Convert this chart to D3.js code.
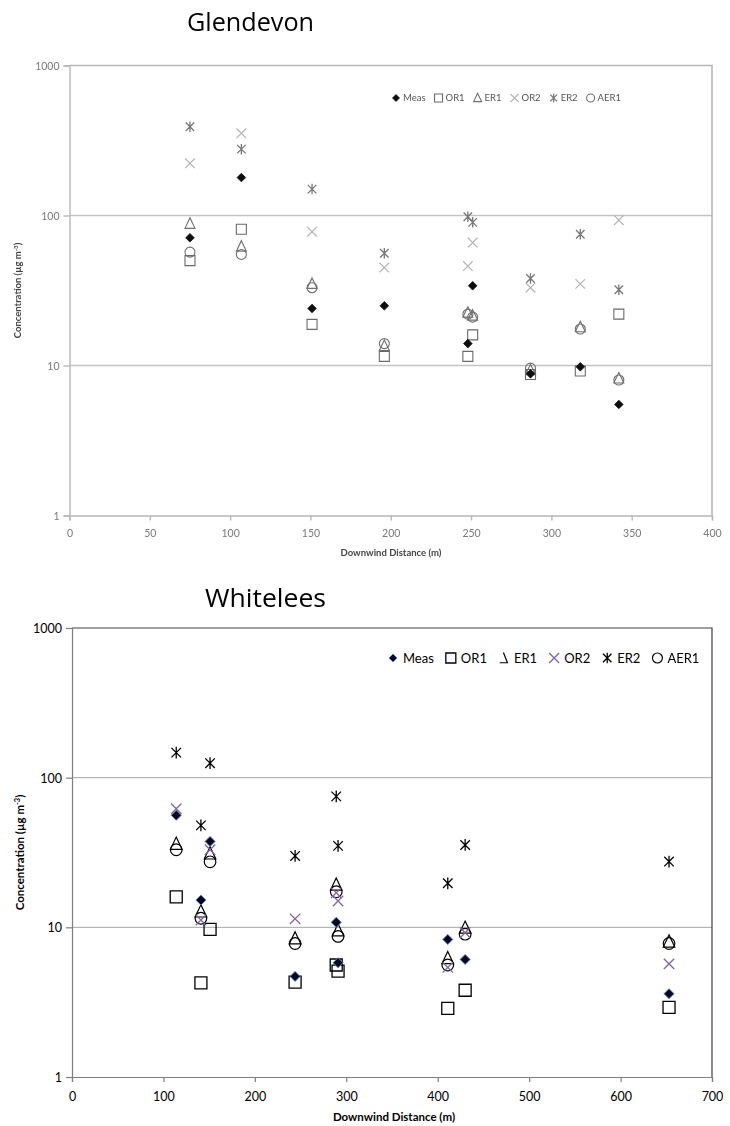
<!DOCTYPE html>
<html><head><meta charset="utf-8">
<script src="https://cdn.jsdelivr.net/npm/d3@7"></script>
<style>body{margin:0;background:#fff}svg{display:block}</style>
</head><body>
<svg id="c" width="730" height="1126"></svg>
<script>
// ---- Glendevon data ----
const gX    = [75, 107, 151, 196, 248, 251, 287, 318, 342];
const gMeas = [71, 179, 24, 25, 14, 34, 8.8, 9.8, 5.5];
const gOR1  = [50, 81, 18.8, 11.5, 11.5, 16, 8.7, 9.2, 22];
const gER1  = [88, 62, 35, 13.5, 22.5, 21.5, 9.3, 18, 8.2];
const gOR2  = [223, 353, 78, 45, 46, 66, 33, 35, 93];
const gER2  = [391, 277, 150, 56, 98, 90, 38, 75, 32];
const gAER1 = [57, 55, 33, 14, 22, 21, 9.6, 17.5, 8.0];
const gXTicks = [0, 50, 100, 150, 200, 250, 300, 350, 400];

// ---- Whitelees data ----
const wX    = [114, 141, 151, 244, 289, 291, 411, 430, 653];
const wMeas = [56, 15.2, 37.5, 4.7, 10.8, 5.8, 8.3, 6.1, 3.6];
const wOR1  = [16, 4.25, 9.7, 4.3, 5.6, 5.1, 2.87, 3.8, 2.92];
const wER1  = [36, 12.7, 31, 8.4, 19.2, 9.5, 6.2, 9.9, 8.0];
const wOR2  = [62, 11.2, 33, 11.4, 17, 15, 5.4, 9.2, 5.7];
const wER2  = [147, 48, 125, 30, 75, 35, 19.7, 35.5, 27.5];
const wAER1 = [33, 11.5, 27.4, 7.8, 17.3, 8.7, 5.6, 9.0, 7.8];
const wXTicks = [0, 100, 200, 300, 400, 500, 600, 700];

const yTicks = [1, 10, 100, 1000];
const seriesNames = ["Meas", "OR1", "ER1", "OR2", "ER2", "AER1"];

const svg = d3.select("#c");
const defs = svg.append("defs");
defs.append("filter").attr("id","blur").append("feGaussianBlur").attr("stdDeviation",0.55);

function mk(type, r) {
  switch(type){
    case "Meas": return `M0,${-r}L${r},0L0,${r}L${-r},0Z`;
    case "OR1": return `M${-r},${-r}H${r}V${r}H${-r}Z`;
    case "ER1": return `M0,${-r*1.2}L${r},${r*0.9}L${-r},${r*0.9}Z`;
    case "OR2": return `M${-r},${-r}L${r},${r}M${r},${-r}L${-r},${r}`;
    case "ER2": return `M${-r*0.85},${-r*0.85}L${r*0.85},${r*0.85}M${r*0.85},${-r*0.85}L${-r*0.85},${r*0.85}M0,${-r*1.05}V${r*1.05}`;
    case "AER1": { const k=r; return `M${k},0A${k},${k} 0 1,1 ${-k},0A${k},${k} 0 1,1 ${k},0Z`; }
    case "ER1leg": return `M${-r*0.85},${r*0.95}H${r*0.7}L${-r*0.1},${-r*1.1}`;
  }
}

function drawChart(cfg) {
  const g = svg.append("g");
  if (cfg.blur) g.attr("filter","url(#blur)");
  const x = d3.scaleLinear().domain([0, cfg.xMax]).range([cfg.left, cfg.right]);
  const y = d3.scaleLog().domain([1, 1000]).range([cfg.bottom, cfg.top]);

  g.append("g").selectAll("line").data(yTicks.filter(t=>t>1 && t<1000)).join("line")
    .attr("x1", cfg.left).attr("x2", cfg.right)
    .attr("y1", d=>y(d)).attr("y2", d=>y(d))
    .attr("stroke", cfg.gridColor).attr("stroke-width", cfg.gridW);

  g.append("path")
    .attr("d", `M${cfg.left},${cfg.top}H${cfg.right}V${cfg.bottom}`)
    .attr("fill","none").attr("stroke", cfg.borderColor).attr("stroke-width", cfg.borderW);

  const xa = d3.axisBottom(x).tickValues(cfg.xTicks).tickSize(5).tickFormat(d3.format("d"));
  const ya = d3.axisLeft(y).tickValues(yTicks).tickSize(6).tickFormat(d3.format("d"));
  const gx = g.append("g").attr("transform", `translate(0,${cfg.bottom})`).call(xa);
  const gy = g.append("g").attr("transform", `translate(${cfg.left},0)`).call(ya);
  [gx, gy].forEach(a => {
    a.select(".domain").attr("stroke", cfg.axisColor).attr("stroke-width", cfg.axisW);
    a.selectAll(".tick line").attr("stroke", cfg.axisColor).attr("stroke-width", cfg.axisW);
    a.selectAll(".tick text").attr("fill", cfg.labelColor)
      .attr("font-family", cfg.font).attr("font-size", cfg.tickSize);
  });
  gx.selectAll(".tick text").attr("dy", cfg.xLabDy);
  gy.selectAll(".tick text").attr("x", -cfg.yLabGap).attr("dy", "0.35em");

  g.append("text").attr("x", cfg.xTitleX).attr("y", cfg.xTitleY)
    .attr("text-anchor","middle").attr("font-family", cfg.font).attr("font-weight","bold")
    .attr("font-size", cfg.titleSize).attr("fill", cfg.titleColor).text("Downwind Distance (m)");
  const yt = g.append("text")
    .attr("transform", `translate(${cfg.yTitleX},${(cfg.top+cfg.bottom)/2}) rotate(-90)`)
    .attr("text-anchor","middle").attr("font-family", cfg.font).attr("font-weight","bold")
    .attr("font-size", cfg.titleSize).attr("fill", cfg.titleColor);
  yt.append("tspan").text("Concentration (µg m");
  yt.append("tspan").attr("baseline-shift","super").attr("font-size", cfg.titleSize*0.65).text("-3");
  yt.append("tspan").text(")");

  const order = ["AER1","ER1","OR1","OR2","ER2","Meas"];
  order.forEach(name => {
    const s = cfg.series[name];
    const st = cfg.styles[name];
    g.append("g").selectAll("path").data(cfg.xs.map((xv,i)=>({x:xv, v:s[i]}))).join("path")
      .attr("transform", d=>`translate(${x(d.x)},${y(d.v)})`)
      .attr("d", mk(name, st.r))
      .attr("fill", st.fill).attr("stroke", st.stroke).attr("stroke-width", st.sw);
  });

  const lg = g.append("g");
  let cx = cfg.legX;
  seriesNames.forEach(name => {
    const st = cfg.styles[name];
    const mname = (name==="ER1" && cfg.oddER1) ? "ER1leg" : name;
    const lr = st.lr;
    lg.append("path").attr("transform", `translate(${cx},${cfg.legY})`)
      .attr("d", mk(mname, lr)).attr("fill", st.fill).attr("stroke", st.stroke).attr("stroke-width", st.sw);
    const t = lg.append("text").attr("x", cx + cfg.legTextOff).attr("y", cfg.legY).attr("dy","0.35em")
      .attr("font-family", cfg.font).attr("font-size", cfg.legSize).attr("fill", cfg.legColor).text(name);
    cx += cfg.legTextOff + t.node().getComputedTextLength() + cfg.legGap;
  });
}

const commonFont = "Lato, 'Open Sans', sans-serif";

drawChart({
  blur: true, xMax: 400, left: 69.5, right: 712, top: 65.5, bottom: 515.5,
  xTicks: gXTicks, xs: gX,
  series: {Meas:gMeas, OR1:gOR1, ER1:gER1, OR2:gOR2, ER2:gER2, AER1:gAER1},
  gridColor: "#c4c4c4", gridW: 1.4, borderColor: "#b8b8b8", borderW: 1.6,
  axisColor: "#b8b8b8", axisW: 1.4, labelColor: "#7a7a7a", font: commonFont, tickSize: 10.5,
  xLabDy: "1.3em", yLabGap: 10, titleSize: 9.5, titleColor: "#444",
  xTitleX: 391, xTitleY: 556, yTitleX: 21,
  styles: {
    Meas: {r:4.3, fill:"#111", stroke:"#111", sw:0.8, lr:3.5},
    OR1: {r:5, fill:"none", stroke:"#6a6a6a", sw:1.1, lr:4},
    ER1: {r:5, fill:"none", stroke:"#6f6f6f", sw:1.1, lr:4},
    OR2: {r:4.8, fill:"none", stroke:"#b5b5b5", sw:1.2, lr:4},
    ER2: {r:5, fill:"none", stroke:"#777", sw:1.3, lr:4},
    AER1: {r:5, fill:"none", stroke:"#6f6f6f", sw:1.1, lr:4}
  },
  legX: 396, legY: 98, legSize: 9.5, legColor: "#555", legTextOff: 7, legGap: 13, oddER1: false
});

drawChart({
  blur: false, xMax: 700, left: 72, right: 712, top: 628, bottom: 1077,
  xTicks: wXTicks, xs: wX,
  series: {Meas:wMeas, OR1:wOR1, ER1:wER1, OR2:wOR2, ER2:wER2, AER1:wAER1},
  gridColor: "#a6a6a6", gridW: 1, borderColor: "#404040", borderW: 1.2,
  axisColor: "#7f7f7f", axisW: 1.2, labelColor: "#000", font: commonFont, tickSize: 12.5,
  xLabDy: "1.25em", yLabGap: 10, titleSize: 11.5, titleColor: "#000",
  xTitleX: 394, xTitleY: 1121, yTitleX: 24,
  styles: {
    Meas: {r:5, fill:"#050520", stroke:"#4f81bd", sw:1, lr:4},
    OR1: {r:6, fill:"none", stroke:"#000", sw:1.3, lr:5},
    ER1: {r:5.8, fill:"none", stroke:"#000", sw:1.2, lr:5},
    OR2: {r:5.2, fill:"none", stroke:"#7f64a2", sw:1.3, lr:5},
    ER2: {r:5.6, fill:"none", stroke:"#000", sw:1.3, lr:5},
    AER1: {r:5.8, fill:"none", stroke:"#000", sw:1.2, lr:5}
  },
  legX: 393, legY: 658, legSize: 13, legColor: "#000", legTextOff: 10, legGap: 17, oddER1: true
});

svg.append("text").attr("x", 187).attr("y", 31).attr("font-family", "'Open Sans', sans-serif")
  .attr("font-size", 25).attr("fill","#000").attr("textLength", 127)
  .attr("lengthAdjust","spacingAndGlyphs").text("Glendevon");
svg.append("text").attr("x", 205).attr("y", 607).attr("font-family", "'Open Sans', sans-serif")
  .attr("font-size", 25).attr("fill","#000").attr("textLength", 121)
  .attr("lengthAdjust","spacingAndGlyphs").text("Whitelees");
</script>
</body></html>
